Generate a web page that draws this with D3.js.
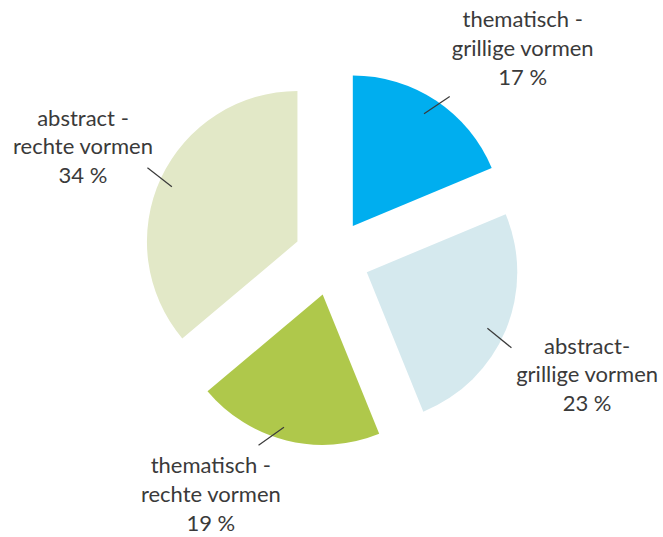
<!DOCTYPE html>
<html>
<head>
<meta charset="utf-8">
<script src="https://cdn.jsdelivr.net/npm/d3@7"></script>
<style>
  html, body { margin: 0; padding: 0; background: #fff; }
  svg { display: block; }
</style>
</head>
<body>
<svg id="chart" width="663" height="537"></svg>
<script>
// ---- data ----
const categories = ["thematisch - grillige vormen", "abstract- grillige vormen", "thematisch - rechte vormen", "abstract - rechte vormen"];
const nameLines = [
  ["thematisch -", "grillige vormen"],
  ["abstract-", "grillige vormen"],
  ["thematisch -", "rechte vormen"],
  ["abstract -", "rechte vormen"]
];
const values = [17.4, 23.4, 18.6, 33.6];          // slice sizes
const percentLabels = ["17 %", "23 %", "19 %", "34 %"];
const colors = ["#00AEEF", "#D5E9EE", "#AFC84B", "#E2E8C7"];

// ---- layout ----
const cx = 331.8, cy = 257.6;
const R = 150.5;
const explode = 37.9;
// leader lines: start (angle shift from slice bisector, radius), direction, length
const leaderStartShift = [-1.3, 2.3, 2.3, -1.4];
const leaderStartR = [133, 133, 138.5, 137];
const leaderDir = [56, 129, 235, 308];
const leaderLen = 31;
// label placement (angle shift in degrees, distance from slice apex)
const labelShift = [10, 2.3, 15.3, -1.1];
const labelDist = [246, 243, 229, 234.5];
const lineH = 28.7;
const deg = Math.PI / 180;

const svg = d3.select("#chart");
const g = svg.append("g").attr("transform", `translate(${cx},${cy})`);

const pie = d3.pie().sort(null).value(d => d)(values);
const arc = d3.arc().innerRadius(0).outerRadius(R);

const polar = (a, r) => [Math.sin(a) * r, -Math.cos(a) * r];
const mid = d => (d.startAngle + d.endAngle) / 2;

const slices = g.selectAll("g.slice").data(pie).enter().append("g")
  .attr("class", "slice")
  .attr("transform", d => {
    const [x, y] = polar(mid(d), explode);
    return `translate(${x},${y})`;
  });

slices.append("path")
  .attr("d", arc)
  .attr("fill", (d, i) => colors[i]);

slices.each(function(d, i) {
  const sel = d3.select(this);
  const [x1, y1] = polar(mid(d) + leaderStartShift[i] * deg, leaderStartR[i]);
  const [ox, oy] = polar(leaderDir[i] * deg, leaderLen);
  sel.append("line")
    .attr("x1", x1).attr("y1", y1)
    .attr("x2", x1 + ox).attr("y2", y1 + oy)
    .attr("stroke", "#3a3a3a")
    .attr("stroke-width", 1.2);

  const [tx, ty] = polar(mid(d) + labelShift[i] * deg, labelDist[i]);
  const t = sel.append("text")
    .attr("text-anchor", "middle")
    .attr("font-family", "Lato, 'Open Sans', sans-serif")
    .attr("font-size", 22)
    .attr("fill", "#3a3a3a");
  const lines = nameLines[i].concat([percentLabels[i]]);
  lines.forEach((s, k) => {
    t.append("tspan")
      .attr("x", tx)
      .attr("y", ty + (k - 1) * lineH)
      .attr("dy", "0.35em")
      .text(s);
  });
});
</script>
</body>
</html>
